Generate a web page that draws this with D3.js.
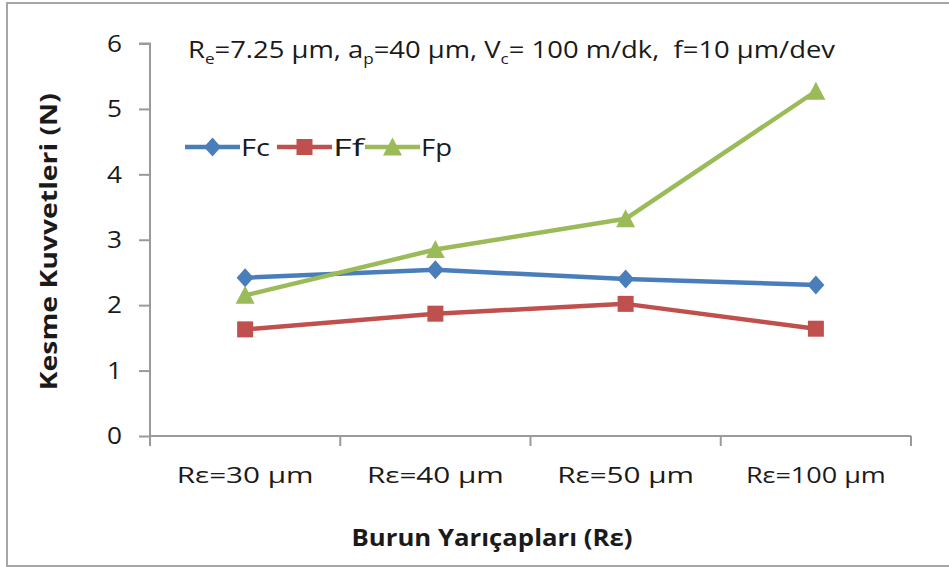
<!DOCTYPE html>
<html>
<head>
<meta charset="utf-8">
<script src="https://cdn.jsdelivr.net/npm/d3@7"></script>
<style>
  body { margin: 0; background: #fff; }
  svg text { font-family: "Open Sans", sans-serif; fill: #1a1a1a; }
</style>
</head>
<body>
<svg id="chart"></svg>
<script>
// chart values
const categories = ["Rε=30 µm", "Rε=40 µm", "Rε=50 µm", "Rε=100 µm"];
const fcValues = [2.42, 2.54, 2.40, 2.31];
const ffValues = [1.63, 1.87, 2.02, 1.64];
const fpValues = [2.15, 2.85, 3.32, 5.27];
const yTicks = [0, 1, 2, 3, 4, 5, 6];

const series = [
    { name: "Fc", values: fcValues, color: "#4a7ebb", marker: "diamond" },
    { name: "Ff", values: ffValues, color: "#c0504d", marker: "square" },
    { name: "Fp", values: fpValues, color: "#9bbb59", marker: "triangle" }
];

const width = 949;
const height = 567;
const margin = { left: 150, right: 38, top: 43.5, bottom: 131 };

// the original text is drawn wide, so stretch each label to its width
function stretch(sel, len) {
    sel.attr("textLength", len).attr("lengthAdjust", "spacingAndGlyphs");
}

const svg = d3.select("#chart")
    .attr("width", width)
    .attr("height", height);

// outer frame
svg.append("rect")
    .attr("x", 7)
    .attr("y", 3)
    .attr("width", 950)
    .attr("height", 563)
    .attr("fill", "none")
    .attr("stroke", "#a6a6a6")
    .attr("stroke-width", 2);

const x = d3.scaleBand()
    .domain(categories)
    .range([margin.left, width - margin.right]);

const y = d3.scaleLinear()
    .domain([0, 6])
    .range([height - margin.bottom, margin.top]);

// y axis
const yAxis = svg.append("g")
    .attr("transform", `translate(${margin.left},0)`)
    .call(d3.axisLeft(y).tickValues(yTicks).tickSize(11).tickPadding(17).tickFormat(d3.format("d")));
yAxis.select(".domain").attr("stroke", "#9a9a9a").attr("stroke-width", 2).attr("d", `M-11,${y(6)}H0V${y(0)}`);
yAxis.selectAll(".tick line").attr("stroke", "#9a9a9a").attr("stroke-width", 2);
yAxis.selectAll(".tick text").style("font-size", "24px").attr("fill", "#1a1a1a")
    .attr("textLength", 15).attr("lengthAdjust", "spacingAndGlyphs");

// x axis
const xAxis = svg.append("g")
    .attr("transform", `translate(0,${y(0)})`)
    .call(d3.axisBottom(x).tickSize(0).tickPadding(31));
xAxis.select(".domain").attr("stroke", "#9a9a9a").attr("stroke-width", 2).attr("d", `M${margin.left},0H${width - margin.right}`);
xAxis.selectAll(".tick text").style("font-size", "22px").attr("fill", "#1a1a1a")
    .attr("textLength", d => d.length > 8 ? 140 : 137).attr("lengthAdjust", "spacingAndGlyphs");

// x tick marks at category boundaries
svg.append("g")
    .selectAll("line")
    .data(categories)
    .enter()
    .append("line")
    .attr("x1", c => x(c) + x.bandwidth())
    .attr("x2", c => x(c) + x.bandwidth())
    .attr("y1", y(0))
    .attr("y2", y(0) + 10)
    .attr("stroke", "#9a9a9a")
    .attr("stroke-width", 2);
svg.append("line")
    .attr("x1", margin.left).attr("x2", margin.left)
    .attr("y1", y(0)).attr("y2", y(0) + 10)
    .attr("stroke", "#9a9a9a").attr("stroke-width", 2);

// axis titles
svg.append("text")
    .attr("transform", `translate(57,${(y(0) + y(6)) / 2 + 2}) rotate(-90)`)
    .attr("text-anchor", "middle")
    .style("font-size", "23px")
    .style("font-weight", "bold")
    .text("Kesme Kuvvetleri (N)")
    .call(stretch, 297);

svg.append("text")
    .attr("x", 492)
    .attr("y", 546)
    .attr("text-anchor", "middle")
    .style("font-size", "23px")
    .style("font-weight", "bold")
    .text("Burun Yarıçapları (Rε)")
    .call(stretch, 281);

// parameter note with subscripts
const note = svg.append("text")
    .attr("x", 188)
    .attr("y", 58)
    .style("font-size", "24px")
    .style("white-space", "pre");
const noteParts = [
    ["R", false], ["e", true], ["=7.25 µm, a", false], ["p", true],
    ["=40 µm, V", false], ["c", true], ["= 100 m/dk,  f=10 µm/dev", false]
];
noteParts.forEach(([t, sub], i) => {
    const prevSub = i > 0 && noteParts[i - 1][1];
    note.append("tspan")
        .attr("dy", sub ? 6 : (prevSub ? -6 : 0))
        .style("font-size", sub ? "15px" : "24px")
        .text(t);
});
note.call(stretch, 647);

// markers
function drawMarker(g, type, color, cx, cy) {
    if (type === "diamond") {
        g.append("path")
            .attr("d", `M${cx},${cy - 9.5}L${cx + 8.5},${cy}L${cx},${cy + 9.5}L${cx - 8.5},${cy}Z`)
            .attr("fill", color);
    } else if (type === "square") {
        g.append("rect")
            .attr("x", cx - 8).attr("y", cy - 8)
            .attr("width", 16).attr("height", 16)
            .attr("fill", color);
    } else {
        g.append("path")
            .attr("d", `M${cx},${cy - 9.5}L${cx + 9.5},${cy + 8.5}L${cx - 9.5},${cy + 8.5}Z`)
            .attr("fill", color);
    }
}

const line = d3.line()
    .x((d, i) => x(categories[i]) + x.bandwidth() / 2)
    .y(d => y(d));

series.forEach(s => {
    const g = svg.append("g");
    g.append("path")
        .datum(s.values)
        .attr("d", line)
        .attr("fill", "none")
        .attr("stroke", s.color)
        .attr("stroke-width", 4.5)
        .attr("stroke-linejoin", "round");
    s.values.forEach((v, i) => {
        drawMarker(g, s.marker, s.color, x(categories[i]) + x.bandwidth() / 2, y(v));
    });
});

// legend
const legendX = [185, 277, 365];
series.forEach((s, i) => {
    const g = svg.append("g");
    const lx = legendX[i];
    const ly = 147;
    g.append("line")
        .attr("x1", lx).attr("x2", lx + 55)
        .attr("y1", ly).attr("y2", ly)
        .attr("stroke", s.color)
        .attr("stroke-width", 4.5);
    drawMarker(g, s.marker, s.color, lx + 27.5, ly);
    g.append("text")
        .attr("x", lx + 56)
        .attr("y", ly + 9)
        .style("font-size", "23px")
        .text(s.name)
        .call(stretch, s.name === "Fc" ? 29 : 31);
});
</script>
</body>
</html>
